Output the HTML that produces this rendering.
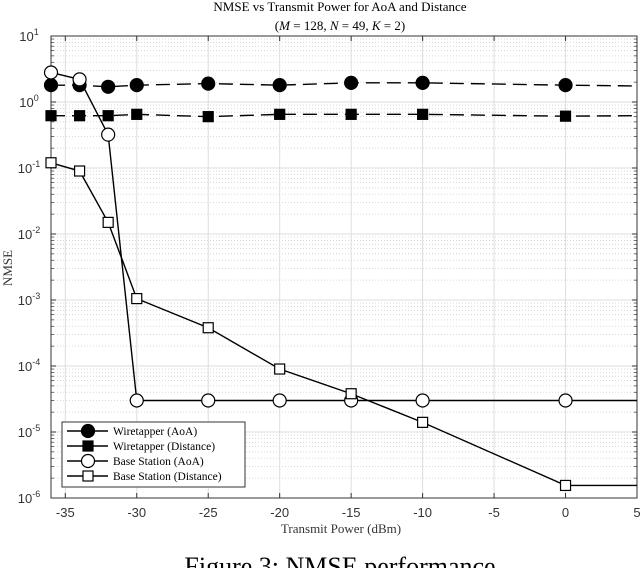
<!DOCTYPE html>
<html><head><meta charset="utf-8"><style>
body{margin:0;background:#fff;width:640px;height:568px;overflow:hidden}
text{font-family:"Liberation Serif",serif}
</style></head><body>
<svg id="c" width="640" height="568" xmlns="http://www.w3.org/2000/svg"></svg>
<script>
const xValues=[-36,-34,-32,-30,-25,-20,-15,-10,0,5];
const wtAoA=[1.8,1.8,1.7,1.8,1.9,1.8,1.95,1.95,1.8,1.75];
const wtDist=[0.62,0.62,0.62,0.65,0.6,0.65,0.65,0.65,0.61,0.62];
const bsAoA=[2.8,2.2,0.32,3e-5,3e-5,3e-5,3e-5,3e-5,3e-5,3e-5];
const bsDist=[0.12,0.09,0.015,1.05e-3,3.8e-4,9e-5,3.8e-5,1.4e-5,1.55e-6,1.55e-6];
const xTicks=[-35,-30,-25,-20,-15,-10,-5,0,5];
const yExps=[1,0,-1,-2,-3,-4,-5,-6];
const L=51,R=637,T=36,B=498;
const sx=v=>L+(v+36)/41*(R-L);
const sy=v=>T+(1-Math.log10(v))/7*(B-T);
const svg=document.getElementById('c');const NS='http://www.w3.org/2000/svg';
function el(t,a,p){const e=document.createElementNS(NS,t);for(const k in a)e.setAttribute(k,a[k]);(p||svg).appendChild(e);return e;}
const grid=el('g',{});
for(let e=-6;e<1;e++)for(let m=2;m<10;m++){const y=sy(m*Math.pow(10,e));el('line',{x1:L,x2:R,y1:y,y2:y,stroke:'#ccc','stroke-width':0.7,'stroke-dasharray':'1,2'},grid);}
xTicks.forEach(v=>{el('line',{x1:sx(v),x2:sx(v),y1:T,y2:B,stroke:'#ddd','stroke-width':1},grid);});
yExps.forEach(e=>{el('line',{x1:L,x2:R,y1:sy(Math.pow(10,e)),y2:sy(Math.pow(10,e)),stroke:'#ddd','stroke-width':1},grid);});
el('rect',{x:L,y:T,width:R-L,height:B-T,fill:'none',stroke:'#333','stroke-width':1});
const ax=el('g',{});
xTicks.forEach(v=>{const x=sx(v);el('line',{x1:x,x2:x,y1:B,y2:B-5,stroke:'#333'},ax);el('line',{x1:x,x2:x,y1:T,y2:T+5,stroke:'#333'},ax);
 const t=el('text',{x:x,y:B+19,'text-anchor':'middle','font-size':13,fill:'#333'},ax);t.textContent=v;t.style.fontFamily='Liberation Sans';});
for(let e=-6;e<1;e++)for(let m=2;m<10;m++){const y=sy(m*Math.pow(10,e));el('line',{x1:L,x2:L+3,y1:y,y2:y,stroke:'#333','stroke-width':0.7},ax);el('line',{x1:R,x2:R-3,y1:y,y2:y,stroke:'#333','stroke-width':0.7},ax);}
yExps.forEach(e=>{const y=sy(Math.pow(10,e));el('line',{x1:L,x2:L+5,y1:y,y2:y,stroke:'#333'},ax);el('line',{x1:R,x2:R-5,y1:y,y2:y,stroke:'#333'},ax);
 const t=el('text',{x:L-22,y:y+5,'text-anchor':'middle','font-size':13,fill:'#333'},ax);t.style.fontFamily='Liberation Sans';t.innerHTML='10<tspan dy="-6" font-size="9">'+e+'</tspan>';});
const series=[{n:'wiretapper-aoa',d:wtAoA,dash:'14,7',m:'circle',f:'#000'},{n:'wiretapper-distance',d:wtDist,dash:'14,7',m:'square',f:'#000'},{n:'base-station-aoa',d:bsAoA,dash:'',m:'circle',f:'#fff'},{n:'base-station-distance',d:bsDist,dash:'',m:'square',f:'#fff'}];
function marker(g,m,x,y,f){if(m==='circle')el('circle',{cx:x,cy:y,r:6.5,fill:f,stroke:'#000','stroke-width':1.2},g);else el('rect',{x:x-5,y:y-5,width:10,height:10,fill:f,stroke:'#000','stroke-width':1.2},g);}
series.forEach(s=>{const g=el('g',{});
 el('polyline',{points:s.d.map((v,i)=>sx(xValues[i])+','+sy(v)).join(' '),fill:'none',stroke:'#000','stroke-width':1.4,'stroke-dasharray':s.dash},g);
 s.d.forEach((v,i)=>{if(i<s.d.length-1)marker(g,s.m,sx(xValues[i]),sy(v),s.f);});});
const lg=el('g',{});
el('rect',{x:62,y:422,width:183,height:65,fill:'#fff',stroke:'#333'},lg);
const names=['Wiretapper (AoA)','Wiretapper (Distance)','Base Station (AoA)','Base Station (Distance)'];
series.forEach((s,i)=>{const y=431+i*15;const e=el('g',{},lg);
 el('line',{x1:67,x2:108,y1:y,y2:y,stroke:'#000','stroke-width':1.4},e);marker(e,s.m,88,y,s.f);
 const t=el('text',{x:113,y:y+4,'font-size':11.5,fill:'#000'},e);t.textContent=names[i];});
function txt(x,y,s,str,name,extra){const t=el('text',Object.assign({x:x,y:y,'font-size':s,'text-anchor':'middle',fill:'#000'},extra||{}));t.textContent=str;return t;}
txt(340,11,13,'NMSE vs Transmit Power for AoA and Distance','chart-title');
const st=txt(340,30,13,'','chart-subtitle');st.innerHTML='(<tspan font-style="italic">M</tspan> = 128, <tspan font-style="italic">N</tspan> = 49, <tspan font-style="italic">K</tspan> = 2)';
txt(341,533,13,'Transmit Power (dBm)','x-axis-title',{fill:'#333'});
txt(12,268,13,'NMSE','y-axis-title',{transform:'rotate(-90 12 268)',fill:'#333'});
txt(340,575,26,'Figure 3: NMSE performance','figure-caption');
</script>
</body></html>
